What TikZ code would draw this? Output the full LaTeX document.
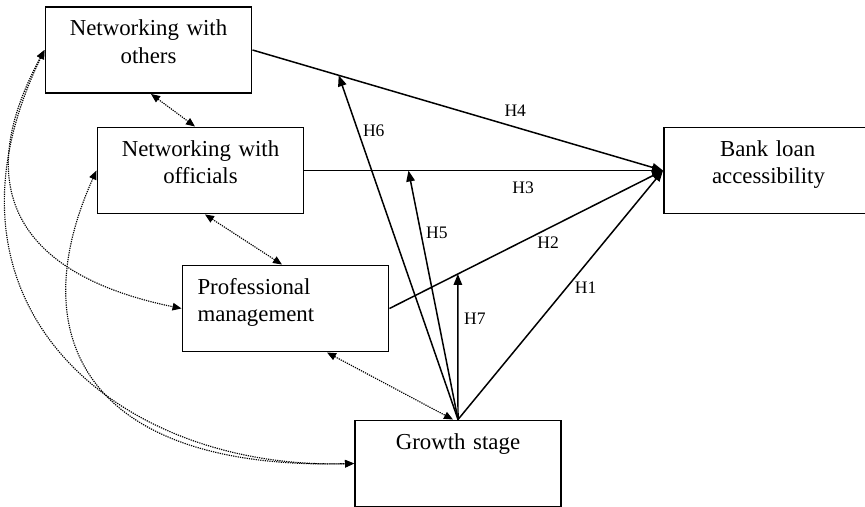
\documentclass[tikz,border=0pt]{standalone}
\usepackage{fontspec}
\setmainfont{Liberation Serif}
\usetikzlibrary{arrows.meta,calc}

\begin{document}
\begin{tikzpicture}[
  x=1cm,y=1cm,
  font=\fontsize{13}{15.4}\selectfont,
  box/.style={draw,line width=1.1pt,align=center,
              text width=3.52cm,inner xsep=.3cm,inner ysep=0pt,
              text height=.58cm,text depth=1.14cm},
  effect/.style={-{Triangle[length=.22cm,width=.17cm]},line width=.85pt},
  link/.style={{Triangle[length=.18cm,width=.15cm]}-{Triangle[length=.18cm,width=.15cm]},
               line width=.65pt,dash pattern=on .7pt off .6pt},
  hyp/.style={font=\fontsize{10}{12}\selectfont,inner sep=1pt}
]
\useasboundingbox (0,0) rectangle (17.3,10.14);

% Constructs
\node[box] (others) at (2.97,9.14) {Networking with\\others};
\node[box] (officials) at (4.01,6.73) {Networking with\\officials};
\node[box,align=left] (prof) at (5.71,3.97) {Professional\\management};
\node[box] (growth) at (9.16,0.87) {Growth stage};
\node[box,text width=4.6cm,align=left,inner xsep=0pt] (bank) at (15.58,6.73)
  {\hspace*{1.12cm}Bank loan\\\hspace*{.96cm}accessibility};

% Direct effects
\draw[effect] (others.east) -- node[hyp,pos=.64,yshift=.32cm] (h4) {H4} (bank.west);
\draw[effect] (officials.east) -- node[hyp,pos=.61,yshift=-.34cm] (h3) {H3} (bank.west);
\draw[effect] (prof.east) -- node[hyp,pos=.58,yshift=-.29cm] (h2) {H2} (bank.west);
\draw[effect] (growth.north) -- node[hyp,pos=.53,xshift=.38cm] (h1) {H1} (bank.west);

% Moderating effects of growth stage
\coordinate (m6) at ($(others.east)!.21!(bank.west)$);
\coordinate (m5) at ($(officials.east)!.29!(bank.west)$);
\coordinate (m7) at ($(prof.east)!.25!(bank.west)$);
\draw[effect] (growth.north) -- node[hyp,pos=.84,xshift=.32cm] (h6) {H6} (m6);
\draw[effect] (growth.north) -- node[hyp,pos=.75,xshift=.32cm] (h5) {H5} (m5);
\draw[effect] (growth.north) -- node[hyp,pos=.69,xshift=.34cm] (h7) {H7} (m7);

% Correlations
\draw[link] ([xshift=.05cm]others.south) -- ([xshift=-.11cm]officials.north);
\draw[link] ([xshift=.09cm]officials.south) -- ([xshift=-.07cm]prof.north);
\draw[link] ([xshift=.83cm]prof.south) -- ([xshift=-.1cm]growth.north);
\draw[link] (others.west) .. controls (-.66,6.28) and (.46,4.62) .. (prof.west);
\draw[link] (others.west) .. controls (-1.6,4.0) and (2.4,.74) .. (growth.west);
\draw[link] (officials.west) .. controls (.4,3.34) and (1.8,.74) .. (growth.west);
\end{tikzpicture}
\end{document}
